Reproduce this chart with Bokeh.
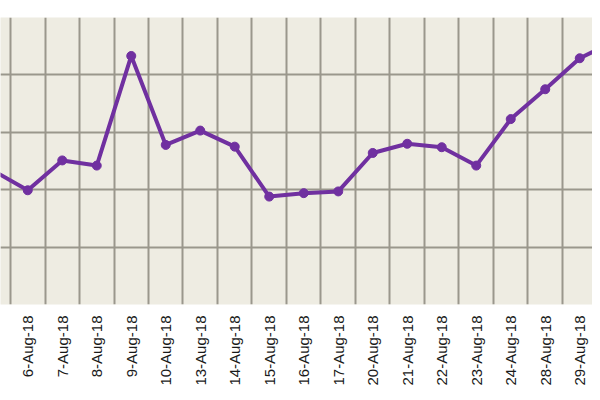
from math import pi
from bokeh.plotting import figure
from bokeh.models import Range1d, FixedTicker, ColumnDataSource
from bokeh.embed import file_html
from bokeh.resources import INLINE

dates = ["3-Aug-18", "6-Aug-18", "7-Aug-18", "8-Aug-18", "9-Aug-18", "10-Aug-18",
         "13-Aug-18", "14-Aug-18", "15-Aug-18", "16-Aug-18", "17-Aug-18", "20-Aug-18",
         "21-Aug-18", "22-Aug-18", "23-Aug-18", "24-Aug-18", "28-Aug-18", "29-Aug-18",
         "30-Aug-18"]
values = [2.33, 1.99, 2.51, 2.42, 4.33, 2.78, 3.03, 2.75, 1.88, 1.94, 1.97, 2.64,
          2.80, 2.74, 2.42, 3.23, 3.75, 4.29, 4.58]
y_ticks = [0, 1, 2, 3, 4, 5]

idx = list(range(len(dates)))
src = ColumnDataSource(data=dict(x=idx, y=values))

p = figure(width=592, height=392, output_backend="svg", toolbar_location=None,
           x_range=Range1d(0.21, 17.37), y_range=Range1d(0, 5),
           min_border_left=0, min_border_right=0, min_border_top=17, min_border_bottom=88)
p.background_fill_color = "#EEECE2"
p.border_fill_color = "white"
p.outline_line_color = None

p.yaxis.visible = False
p.xaxis.ticker = FixedTicker(ticks=idx)
p.xaxis.major_label_overrides = {i: d for i, d in enumerate(dates)}
p.xaxis.major_label_orientation = pi / 2
p.xaxis.major_label_standoff = 11
p.xaxis.major_tick_in = 0
p.xaxis.major_tick_out = 0
p.xaxis.minor_tick_line_color = None
p.xaxis.major_tick_line_color = None
p.xaxis.axis_line_color = None
p.xaxis.major_label_text_font = "Liberation Sans"
p.xaxis.major_label_text_font_size = "15px"
p.xaxis.major_label_text_color = "#1a1a1a"

p.xgrid.ticker = FixedTicker(ticks=[i + 0.5 for i in range(-1, len(dates))])
p.ygrid.ticker = FixedTicker(ticks=y_ticks)
for g in (p.xgrid, p.ygrid):
    g.grid_line_color = "#9A978C"
    g.grid_line_width = 2

p.line("x", "y", source=src, line_color="#7030A0", line_width=4)
p.scatter("x", "y", source=src, size=9, fill_color="#7030A0", line_color="#7030A0")

open("out.html", "w").write(file_html(p, INLINE))
